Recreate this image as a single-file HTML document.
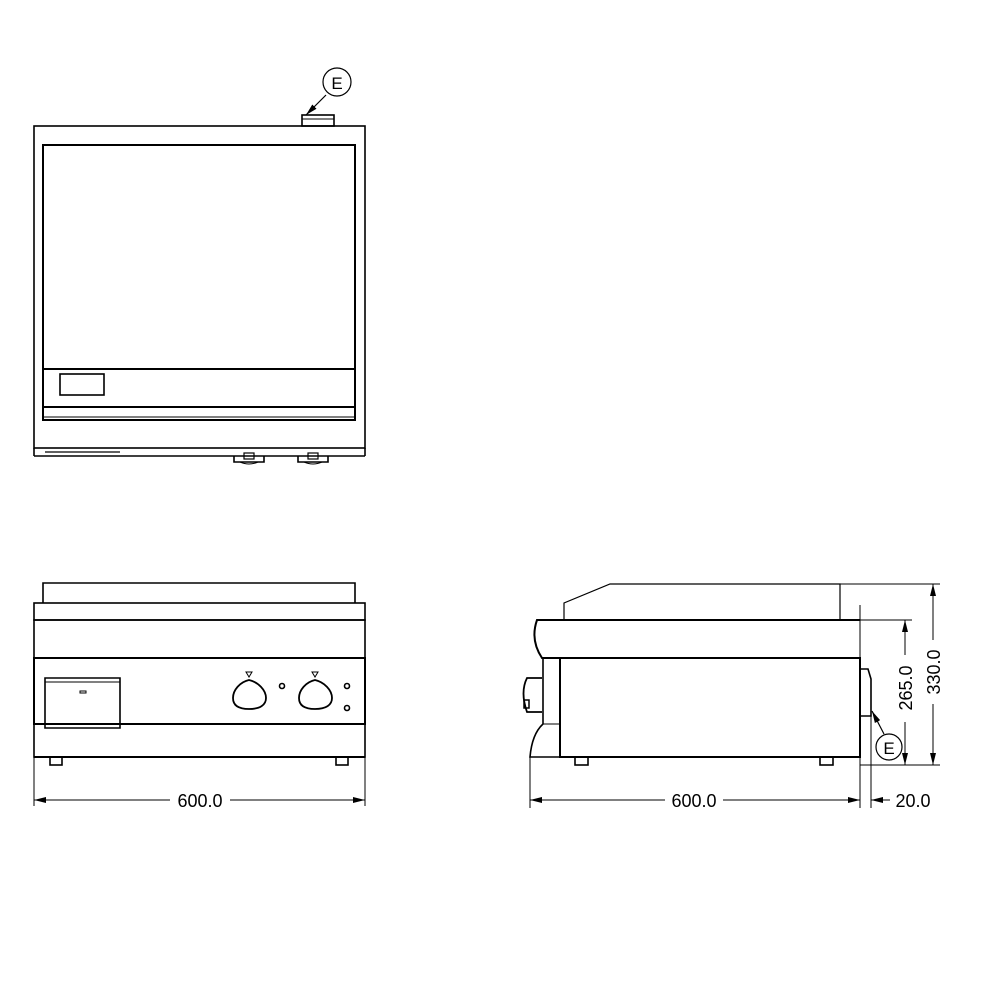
<!DOCTYPE html>
<html><head><style>html,body{margin:0;padding:0;background:#fff}svg{display:block}</style></head>
<body>
<svg width="1000" height="1000" viewBox="0 0 1000 1000" xmlns="http://www.w3.org/2000/svg" font-family="Liberation Sans, sans-serif">
<defs>
<marker id="a" markerWidth="12" markerHeight="6" refX="12" refY="3" orient="auto-start-reverse" markerUnits="userSpaceOnUse"><path d="M0,0 L12,3 L0,6 Z" fill="#000"/></marker>
</defs>
<g fill="none" stroke="#000" stroke-width="1.6">
<!-- TOP VIEW -->
<rect x="34" y="126" width="331" height="322"/>
<line x1="34" y1="448" x2="34" y2="456"/><line x1="365" y1="448" x2="365" y2="456"/>
<line x1="34" y1="456" x2="365" y2="456"/>
<line x1="45" y1="452" x2="120" y2="452" stroke-width="1.2"/>
<rect x="43" y="145" width="312" height="275" stroke-width="2"/>
<line x1="43" y1="369" x2="355" y2="369" stroke-width="2"/>
<line x1="43" y1="407" x2="355" y2="407" stroke-width="2"/>
<line x1="43" y1="417" x2="355" y2="417" stroke-width="1"/>
<rect x="60" y="374" width="44" height="21"/>
<rect x="302" y="115" width="32" height="11"/>
<line x1="302" y1="119" x2="334" y2="119" stroke-width="1"/>
<circle cx="337" cy="82" r="14" stroke-width="1.2"/>
<line x1="326" y1="95" x2="306" y2="115" stroke-width="1.2" marker-end="url(#a)"/>
<path d="M234,456 v6 h30 v-6 M298,456 v6 h30 v-6"/>
<path d="M240,462 q9,4 18,0 M304,462 q9,4 18,0" stroke-width="1"/>
<rect x="244" y="453" width="10" height="6" stroke-width="1.2"/>
<rect x="308" y="453" width="10" height="6" stroke-width="1.2"/>

<!-- FRONT VIEW -->
<path d="M43,603 V583 H355 V603"/>
<rect x="34" y="603" width="331" height="17" stroke-width="1.6"/>
<rect x="34" y="620" width="331" height="137"/>
<rect x="34" y="658" width="331" height="66" stroke-width="2"/>
<line x1="34" y1="757" x2="365" y2="757" stroke-width="2"/>
<path d="M45,678 H120 V728 H45 Z"/>
<line x1="45" y1="682" x2="120" y2="682" stroke-width="1"/>
<rect x="80" y="691" width="6" height="2" stroke-width="1"/>
<rect x="50" y="757" width="12" height="8"/><rect x="336" y="757" width="12" height="8"/>
<path d="M249,680 C240,682 233,690 233,698 C233,705 238,709 249,709 C260,709 266,705 266,698 C266,690 258,682 249,680 Z" stroke-width="1.8"/>
<path d="M315,680 C306,682 299,690 299,698 C299,705 304,709 315,709 C326,709 332,705 332,698 C332,690 324,682 315,680 Z" stroke-width="1.8"/>
<path d="M246,672 h6 l-3,5 z M312,672 h6 l-3,5 z" stroke-width="1"/>
<circle cx="282" cy="686" r="2.5"/><circle cx="347" cy="686" r="2.5"/><circle cx="347" cy="708" r="2.5"/>
<line x1="34" y1="757" x2="34" y2="806" stroke-width="1"/>
<line x1="365" y1="757" x2="365" y2="806" stroke-width="1"/>
<line x1="34" y1="800" x2="170" y2="800" stroke-width="1" marker-start="url(#a)"/>
<line x1="230" y1="800" x2="365" y2="800" stroke-width="1" marker-end="url(#a)"/>

<!-- SIDE VIEW -->
<path d="M564,620 V603 L610,584 H840 V620" stroke-width="1.2"/>
<line x1="840" y1="584" x2="940" y2="584" stroke-width="1"/>
<path d="M860,620 H537 Q530,640 542,658 H860" stroke-width="2"/>
<rect x="560" y="658" width="300" height="99" stroke-width="2"/>
<path d="M543,658 V724 Q532,734 530,757 H860" stroke-width="1.6"/>
<line x1="543" y1="724" x2="560" y2="724" stroke-width="1"/>
<path d="M542,678 H527 Q520,692 527,712 H542" stroke-width="1.8"/>
<rect x="524" y="700" width="5" height="8" stroke-width="1.5"/>
<rect x="575" y="757" width="13" height="8"/><rect x="820" y="757" width="13" height="8"/>
<line x1="860" y1="605" x2="860" y2="808" stroke-width="1"/>
<path d="M860,669 H868 L871,679 V716 H860" stroke-width="1.6"/>
<line x1="871" y1="716" x2="871" y2="808" stroke-width="1"/>
<circle cx="889" cy="747" r="13" stroke-width="1.2"/>
<line x1="884" y1="734" x2="872" y2="711" stroke-width="1.2" marker-end="url(#a)"/>
<line x1="860" y1="620" x2="912" y2="620" stroke-width="1"/>
<line x1="860" y1="765" x2="940" y2="765" stroke-width="1"/>
<line x1="905" y1="655" x2="905" y2="620" stroke-width="1" marker-end="url(#a)"/>
<line x1="905" y1="722" x2="905" y2="765" stroke-width="1" marker-end="url(#a)"/>
<line x1="933" y1="640" x2="933" y2="584" stroke-width="1" marker-end="url(#a)"/>
<line x1="933" y1="704" x2="933" y2="765" stroke-width="1" marker-end="url(#a)"/>
<line x1="530" y1="757" x2="530" y2="808" stroke-width="1"/>
<line x1="530" y1="800" x2="665" y2="800" stroke-width="1" marker-start="url(#a)"/>
<line x1="723" y1="800" x2="860" y2="800" stroke-width="1" marker-end="url(#a)"/>
<line x1="890" y1="800" x2="871" y2="800" stroke-width="1" marker-end="url(#a)"/>
</g>
<g font-size="18" fill="#000" text-anchor="middle">
<text x="337" y="89" font-size="17">E</text>
<text x="889" y="754" font-size="17">E</text>
<text x="200" y="807">600.0</text>
<text x="694" y="807">600.0</text>
<text x="913" y="807">20.0</text>
<text transform="translate(912,688) rotate(-90)">265.0</text>
<text transform="translate(940,672) rotate(-90)">330.0</text>
</g>
</svg>
</body></html>
